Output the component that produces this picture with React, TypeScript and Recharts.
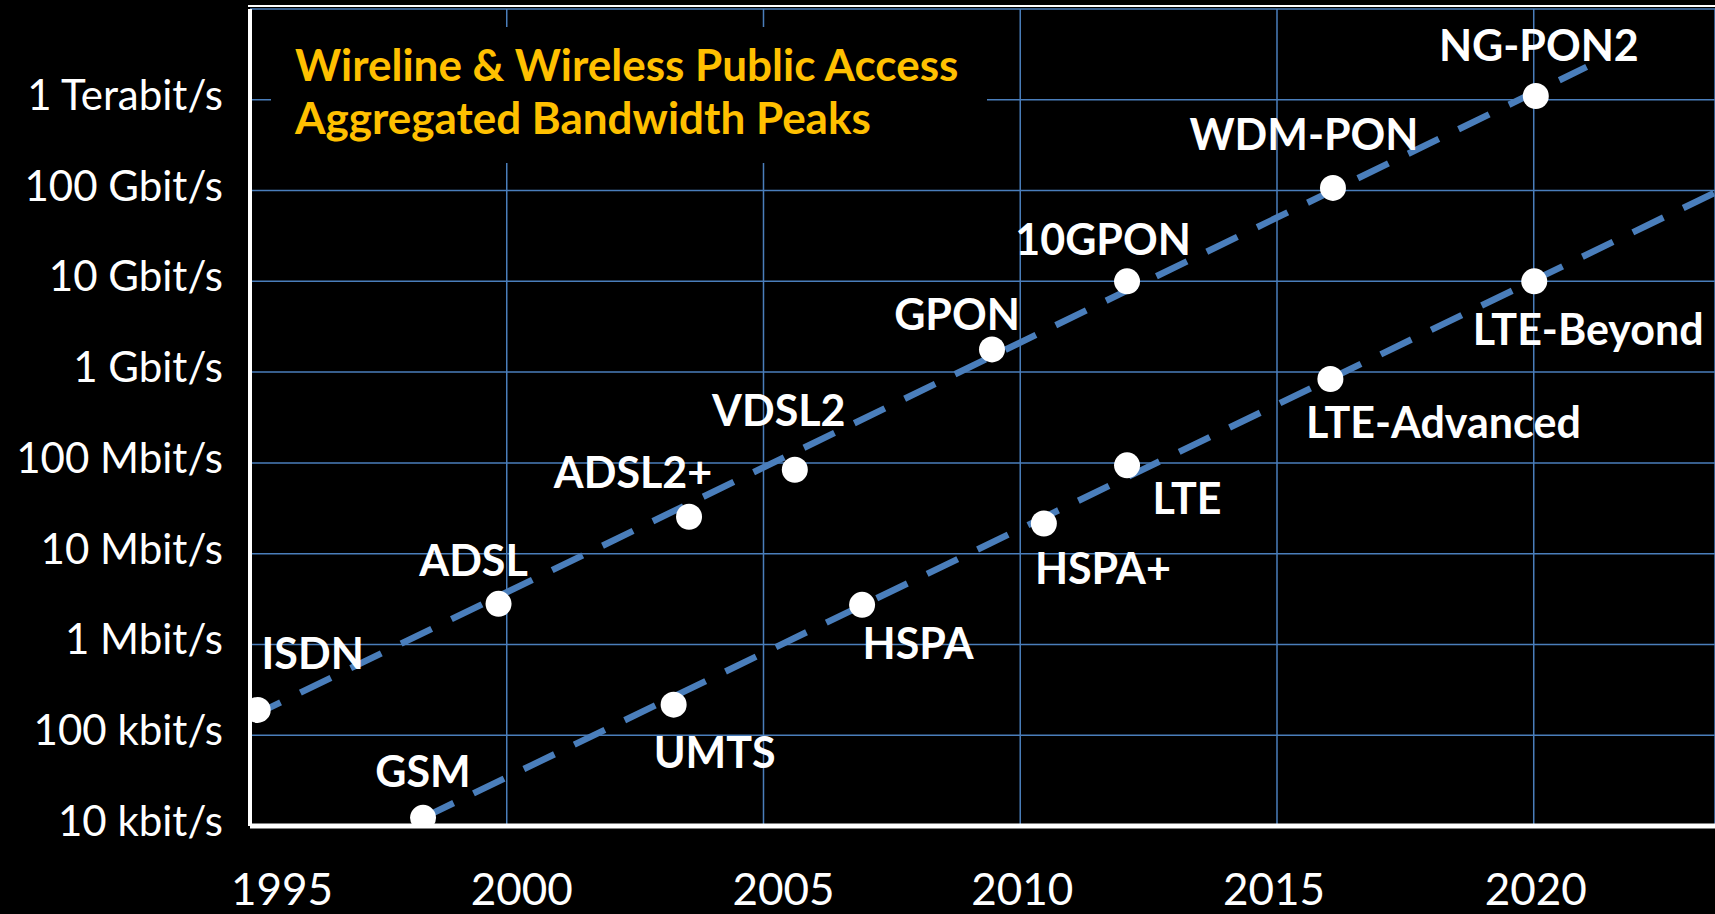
import React from "react";
import { ComposedChart, Line, Scatter, XAxis, YAxis, CartesianGrid } from "recharts";

// wireline access technologies (year, peak bit/s)
const wirelineNames = ["ISDN", "ADSL", "ADSL2+", "VDSL2", "GPON", "10GPON", "WDM-PON", "NG-PON2"];
const wirelineYears = [1995.15, 1999.84, 2003.55, 2005.61, 2009.45, 2012.08, 2016.09, 2020.04];
const wirelineBps = [1.9e5, 2.8e6, 2.55e7, 8.4e7, 1.78e9, 1e10, 1.07e11, 1.1e12];

// wireless access technologies
const wirelessNames = ["GSM", "UMTS", "HSPA", "HSPA+", "LTE", "LTE-Advanced", "LTE-Beyond"];
const wirelessYears = [1998.37, 2003.25, 2006.92, 2010.46, 2012.08, 2016.04, 2020.01];
const wirelessBps = [1.23e4, 2.17e5, 2.73e6, 2.15e7, 9.4e7, 8.4e8, 1e10];

// dashed trend lines
const wirelineTrendYears = [1995, 2021.03];
const wirelineTrendBps = [1.58e5, 2.3e12];
const wirelessTrendYears = [1998.37, 2023.53];
const wirelessTrendBps = [1.23e4, 9.5e10];

const xTicks = [1995, 2000, 2005, 2010, 2015, 2020];
const yTicks = [1e4, 1e5, 1e6, 1e7, 1e8, 1e9, 1e10, 1e11, 1e12, 1e13];
const yTickLabels = [
  "10 kbit/s",
  "100 kbit/s",
  "1 Mbit/s",
  "10 Mbit/s",
  "100 Mbit/s",
  "1 Gbit/s",
  "10 Gbit/s",
  "100 Gbit/s",
  "1 Terabit/s",
  "",
];

const FONT = "Lato, 'Open Sans', sans-serif";
const BLUE = "#4a7ebb";

// label offset from its dot, in px
const labelOffsets: Record<string, [number, number]> = {
  ISDN: [55, -57],
  ADSL: [-25, -44],
  "ADSL2+": [-56, -45],
  VDSL2: [-16, -60],
  GPON: [-35, -36],
  "10GPON": [-24, -43],
  "WDM-PON": [-29, -54],
  "NG-PON2": [3, -52],
  GSM: [0, -47],
  UMTS: [41, 47],
  HSPA: [56, 38],
  "HSPA+": [59, 44],
  LTE: [60, 32],
  "LTE-Advanced": [113, 43],
  "LTE-Beyond": [54, 47],
};

// small nudges so the year labels sit like the original
const xTickNudge = [32, 15, 20, 2, -3, 2];

const wireline = wirelineNames.map((name, i) => ({ name, x: wirelineYears[i], y: wirelineBps[i] }));
const wireless = wirelessNames.map((name, i) => ({ name, x: wirelessYears[i], y: wirelessBps[i] }));
const wirelineTrend = wirelineTrendYears.map((x, i) => ({ x, y: wirelineTrendBps[i] }));
const wirelessTrend = wirelessTrendYears.map((x, i) => ({ x, y: wirelessTrendBps[i] }));

function LabeledDot(props: any) {
  const { cx, cy, payload } = props;
  if (cx == null || cy == null) return null;
  const [dx, dy] = labelOffsets[payload.name] ?? [0, -45];
  return (
    <g>
      <circle cx={cx} cy={cy} r={13} fill="#ffffff" />
      <text
        x={cx + dx}
        y={cy + dy}
        textAnchor="middle"
        dominantBaseline="central"
        fill="#ffffff"
        fontFamily={FONT}
        fontWeight={700}
        fontSize={43}
      >
        {payload.name}
      </text>
    </g>
  );
}

function YTick(props: any) {
  const { x, y, payload } = props;
  const i = Math.round(Math.log10(payload.value)) - 4;
  return (
    <text x={x} y={y - 6} textAnchor="end" dominantBaseline="central" fill="#ffffff" fontFamily={FONT} fontSize={42}>
      {yTickLabels[i]}
    </text>
  );
}

function XTick(props: any) {
  const { x, payload } = props;
  const i = xTicks.indexOf(payload.value);
  return (
    <text
      x={x + (xTickNudge[i] ?? 0)}
      y={905}
      textAnchor="middle"
      fill="#ffffff"
      fontFamily={FONT}
      fontSize={44}
    >
      {payload.value}
    </text>
  );
}

export default function App() {
  return (
    <div style={{ position: "absolute", left: 0, top: 0, width: 1715, height: 914, background: "#000", overflow: "hidden" }}>
      <ComposedChart width={1715} height={914} margin={{ top: 9, right: 0, bottom: 0, left: 0 }}>
        <CartesianGrid stroke={BLUE} strokeWidth={1.5} />
        <XAxis
          type="number"
          dataKey="x"
          domain={[1995, 2023.53]}
          ticks={xTicks}
          interval={0}
          height={88}
          tickLine={false}
          tickSize={0}
          tickMargin={0}
          axisLine={{ stroke: "#ffffff", strokeWidth: 5 }}
          tick={<XTick />}
          allowDataOverflow
        />
        <YAxis
          type="number"
          dataKey="y"
          scale="log"
          domain={[1e4, 1e13]}
          ticks={yTicks}
          interval={0}
          width={250}
          tickLine={false}
          tickSize={0}
          tickMargin={27}
          axisLine={{ stroke: "#ffffff", strokeWidth: 4 }}
          tick={<YTick />}
          allowDataOverflow
        />
        <Line
          data={wirelineTrend}
          dataKey="y"
          stroke={BLUE}
          strokeWidth={6.5}
          strokeDasharray="34 22"
          dot={false}
          activeDot={false}
          isAnimationActive={false}
        />
        <Line
          data={wirelessTrend}
          dataKey="y"
          stroke={BLUE}
          strokeWidth={6.5}
          strokeDasharray="34 22"
          dot={false}
          activeDot={false}
          isAnimationActive={false}
        />
        <Scatter data={wireline} dataKey="y" shape={<LabeledDot />} isAnimationActive={false} />
        <Scatter data={wireless} dataKey="y" shape={<LabeledDot />} isAnimationActive={false} />
      </ComposedChart>
      <div style={{ position: "absolute", left: 248, top: 5, width: 1467, height: 2, background: "#ffffff" }} />
      <div
        style={{
          position: "absolute",
          left: 271,
          top: 27,
          width: 716,
          height: 136,
          boxSizing: "border-box",
          background: "#000",
          paddingLeft: 24,
          paddingTop: 11,
          color: "#FFC000",
          fontFamily: FONT,
          fontWeight: 700,
          fontSize: 44,
          lineHeight: "53px",
          whiteSpace: "nowrap",
        }}
      >
        Wireline &amp; Wireless Public Access
        <br />
        Aggregated Bandwidth Peaks
      </div>
    </div>
  );
}
